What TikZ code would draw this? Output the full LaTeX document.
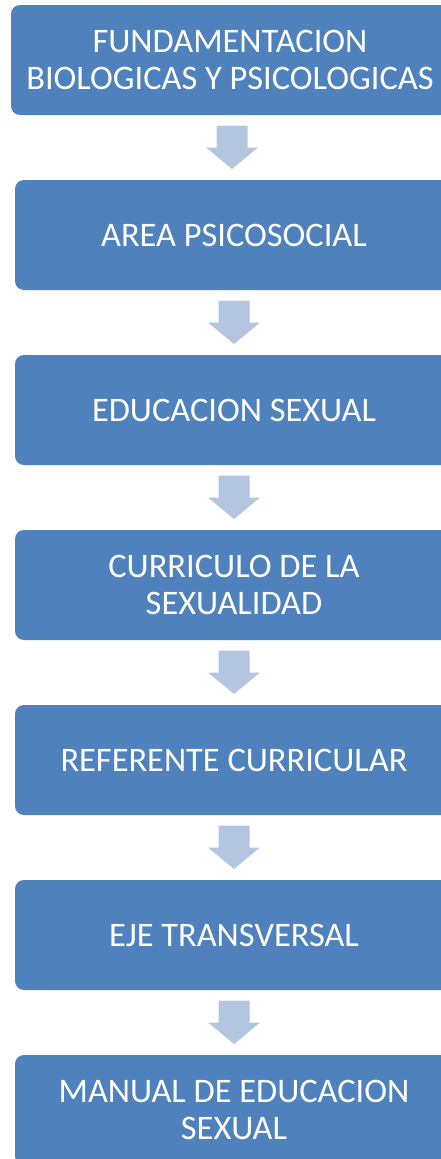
\documentclass[tikz,border=0pt]{standalone}
\usepackage{fontspec}
\setmainfont{Carlito}
\usetikzlibrary{calc}
\definecolor{boxblue}{RGB}{79,129,189}
\definecolor{arrowblue}{RGB}{180,197,223}
\tikzset{
  flowbox/.style={fill=boxblue, draw=none, rounded corners=9pt, minimum width=438pt, minimum height=110pt, inner sep=0pt, text=white, align=center, font=\fontsize{34.4}{37.7}\selectfont},
  arrowfill/.style={fill=arrowblue, draw=none}
}
\newcommand\flowarrow[2]{%
  \fill[arrowfill] let \p1=($(#1.south)!0.5!(#2.north)$) in
    (\x1-15.5pt,\y1+22pt) -- (\x1+15.5pt,\y1+22pt) -- (\x1+15.5pt,\y1) --
    (\x1+26pt,\y1) -- (\x1,\y1-21.5pt) -- (\x1-26pt,\y1) --
    (\x1-15.5pt,\y1) -- cycle;}
\begin{document}
\begin{tikzpicture}[x=1pt,y=-1pt]
\useasboundingbox (0,0) rectangle (441,1159);
\clip (0,0) rectangle (441,1159);
\node[flowbox] (n1) at (230,60) {FUNDAMENTACION\\BIOLOGICAS Y PSICOLOGICAS};
\node[flowbox] (n2) at (234,235) {AREA PSICOSOCIAL};
\node[flowbox] (n3) at (234,410) {EDUCACION SEXUAL};
\node[flowbox] (n4) at (234,585) {CURRICULO DE LA\\SEXUALIDAD};
\node[flowbox] (n5) at (234,760) {REFERENTE CURRICULAR};
\node[flowbox] (n6) at (234,935) {EJE TRANSVERSAL};
\node[flowbox] (n7) at (234,1110) {MANUAL DE EDUCACION\\SEXUAL};
\flowarrow{n1}{n2}
\flowarrow{n2}{n3}
\flowarrow{n3}{n4}
\flowarrow{n4}{n5}
\flowarrow{n5}{n6}
\flowarrow{n6}{n7}
\end{tikzpicture}
\end{document}
